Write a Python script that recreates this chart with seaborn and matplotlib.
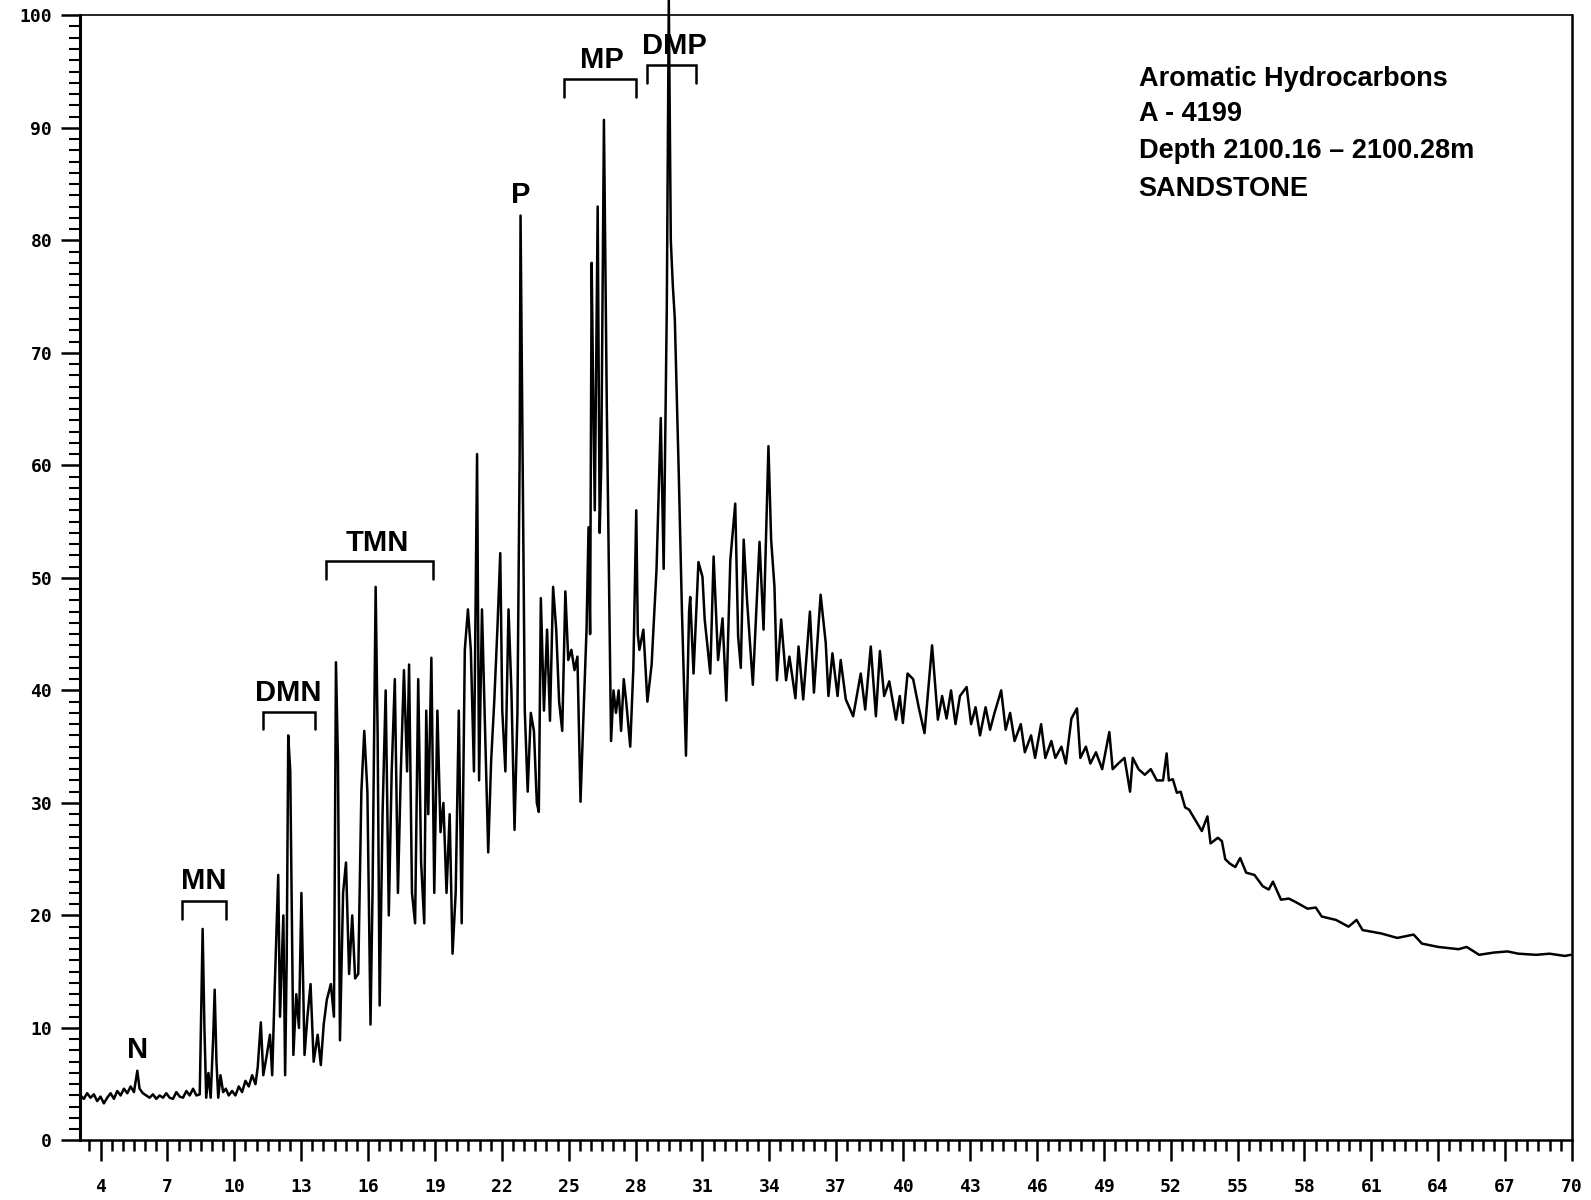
import matplotlib
matplotlib.use("Agg")
import matplotlib.pyplot as plt
import seaborn as sns
import pandas as pd
from matplotlib.ticker import MultipleLocator, FixedLocator

# ---------------- data ----------------
retention_time = [
    3.1, 3.25, 3.4, 3.55, 3.7, 3.85, 4.0, 4.15, 4.3, 4.45, 4.6, 4.75, 4.9, 5.05, 5.2, 5.35, 5.5, 5.65, 5.75, 5.9,
    6.05, 6.2, 6.35, 6.5, 6.65, 6.8, 6.95, 7.1, 7.25, 7.4, 7.55, 7.7, 7.85, 8.0, 8.15, 8.3, 8.45, 8.52, 8.58, 8.66,
    8.74, 8.84, 8.94, 9.05, 9.12, 9.2, 9.28, 9.38, 9.5, 9.62, 9.75, 9.9, 10.05, 10.2, 10.35, 10.5, 10.65, 10.8, 10.95, 11.05,
    11.19, 11.3, 11.45, 11.6, 11.7, 11.82, 11.97, 12.05, 12.2, 12.28, 12.35, 12.42, 12.51, 12.58, 12.65, 12.78, 12.9, 13.01, 13.08, 13.15,
    13.28, 13.42, 13.56, 13.74, 13.88, 14.01, 14.15, 14.33, 14.47, 14.56, 14.65, 14.74, 14.88, 15.01, 15.15, 15.29, 15.42, 15.56, 15.7, 15.83,
    15.97, 16.11, 16.2, 16.34, 16.43, 16.52, 16.65, 16.79, 16.93, 17.06, 17.2, 17.34, 17.47, 17.61, 17.75, 17.84, 17.97, 18.11, 18.25, 18.38,
    18.52, 18.61, 18.7, 18.84, 18.97, 19.11, 19.25, 19.38, 19.52, 19.66, 19.79, 19.93, 20.07, 20.2, 20.34, 20.48, 20.61, 20.75, 20.89, 20.98,
    21.11, 21.25, 21.39, 21.52, 21.66, 21.8, 21.93, 22.02, 22.16, 22.3, 22.43, 22.57, 22.7, 22.8, 22.84, 22.93, 23.03, 23.16, 23.3, 23.44,
    23.57, 23.66, 23.75, 23.89, 24.03, 24.16, 24.3, 24.44, 24.57, 24.71, 24.85, 24.98, 25.12, 25.26, 25.39, 25.53, 25.67, 25.8, 25.89, 25.96,
    26.03, 26.1, 26.17, 26.3, 26.39, 26.46, 26.58, 26.71, 26.9, 27.01, 27.12, 27.24, 27.35, 27.47, 27.58, 27.76, 27.9, 28.03, 28.1, 28.17,
    28.35, 28.53, 28.72, 28.94, 29.13, 29.26, 29.4, 29.49, 29.58, 29.67, 29.76, 29.94, 30.08, 30.26, 30.4, 30.45, 30.6, 30.82, 31.0, 31.1,
    31.35, 31.5, 31.7, 31.9, 32.07, 32.25, 32.47, 32.6, 32.72, 32.85, 33.0, 33.26, 33.56, 33.74, 33.96, 34.08, 34.23, 34.34, 34.53, 34.75,
    34.9, 35.17, 35.31, 35.52, 35.82, 36.0, 36.3, 36.53, 36.65, 36.83, 37.06, 37.2, 37.43, 37.76, 38.1, 38.3, 38.55, 38.78, 38.96, 39.15,
    39.38, 39.68, 39.85, 39.99, 40.2, 40.45, 40.7, 40.96, 41.3, 41.56, 41.75, 41.95, 42.15, 42.35, 42.55, 42.85, 43.05, 43.25, 43.45, 43.7,
    43.9, 44.1, 44.4, 44.6, 44.8, 45.0, 45.28, 45.46, 45.74, 45.92, 46.19, 46.38, 46.65, 46.83, 47.1, 47.3, 47.55, 47.8, 47.95, 48.2,
    48.4, 48.65, 48.93, 49.25, 49.4, 49.65, 49.93, 50.18, 50.3, 50.56, 50.84, 51.11, 51.38, 51.66, 51.82, 51.92, 52.1, 52.28, 52.45, 52.65,
    52.83, 53.1, 53.4, 53.65, 53.79, 54.12, 54.3, 54.45, 54.66, 54.9, 55.12, 55.39, 55.76, 56.13, 56.4, 56.59, 56.95, 57.3, 57.6, 58.14,
    58.51, 58.78, 59.42, 59.98, 60.34, 60.61, 61.44, 62.17, 62.9, 63.27, 64.0, 64.92, 65.28, 65.84, 66.5, 67.11, 67.6, 68.4, 69.0, 69.68,
    69.95,
]
intensity = [
    4.0, 3.7, 4.2, 3.8, 4.1, 3.5, 3.9, 3.3, 3.8, 4.2, 3.7, 4.4, 4.0, 4.6, 4.2, 4.8, 4.3, 6.2, 4.6, 4.2,
    4.0, 3.8, 4.1, 3.7, 4.0, 3.8, 4.2, 3.8, 3.7, 4.3, 3.9, 3.8, 4.4, 4.0, 4.6, 4.0, 4.1, 12.0, 18.8, 10.0,
    3.8, 6.0, 3.8, 9.0, 13.4, 7.0, 3.8, 5.8, 4.3, 4.6, 4.0, 4.4, 4.0, 4.8, 4.3, 5.3, 4.8, 5.8, 5.0, 6.5,
    10.5, 5.8, 7.5, 9.4, 5.8, 14.0, 23.6, 11.0, 20.0, 5.8, 16.0, 36.0, 32.8, 20.0, 7.6, 13.0, 10.0, 22.0, 15.0, 7.6,
    11.0, 13.9, 7.0, 9.4, 6.7, 10.3, 12.5, 13.9, 11.0, 42.5, 33.7, 8.9, 22.0, 24.7, 14.8, 20.0, 14.4, 14.8, 31.0, 36.4,
    31.0, 10.3, 22.0, 49.2, 36.0, 12.0, 29.0, 40.0, 20.0, 32.8, 41.0, 22.0, 32.8, 41.8, 32.8, 42.3, 22.0, 19.3, 41.0, 24.7,
    19.3, 38.2, 29.0, 42.9, 22.0, 38.2, 27.4, 30.0, 22.0, 29.0, 16.6, 22.0, 38.2, 19.3, 43.6, 47.2, 43.6, 32.8, 61.0, 32.0,
    47.2, 36.4, 25.6, 33.7, 39.0, 45.4, 52.2, 38.2, 32.8, 47.2, 40.0, 27.6, 38.0, 60.8, 82.2, 60.8, 38.2, 31.0, 38.0, 36.4,
    30.0, 29.2, 48.2, 38.2, 45.4, 37.3, 49.2, 45.4, 39.0, 36.4, 48.8, 42.7, 43.6, 41.8, 43.0, 30.1, 38.2, 45.4, 54.5, 45.0,
    78.0, 66.0, 56.0, 83.0, 54.0, 60.0, 90.7, 65.0, 35.5, 40.0, 38.0, 40.0, 36.4, 41.0, 39.0, 35.0, 42.0, 56.0, 45.0, 43.6,
    45.4, 39.0, 42.3, 50.8, 64.2, 50.8, 74.0, 101.4, 80.0, 76.0, 73.0, 59.0, 47.0, 34.2, 47.0, 48.3, 41.5, 51.4, 50.1, 46.3,
    41.5, 51.9, 42.7, 46.4, 39.1, 51.6, 56.6, 44.8, 42.0, 53.4, 48.0, 40.5, 53.2, 45.4, 61.7, 53.4, 49.2, 40.9, 46.3, 40.9,
    43.0, 39.3, 43.9, 39.2, 47.0, 39.8, 48.5, 44.2, 39.5, 43.3, 39.5, 42.7, 39.2, 37.7, 41.5, 38.3, 43.9, 37.7, 43.5, 39.5,
    40.8, 37.4, 39.5, 37.1, 41.5, 41.0, 38.5, 36.2, 44.0, 37.4, 39.5, 37.5, 40.0, 37.0, 39.5, 40.3, 37.0, 38.5, 36.0, 38.5,
    36.5, 38.0, 40.0, 36.5, 38.0, 35.5, 37.0, 34.5, 36.0, 34.0, 37.0, 34.0, 35.5, 34.0, 35.0, 33.5, 37.5, 38.4, 34.0, 35.0,
    33.5, 34.5, 33.0, 36.3, 33.0, 33.5, 34.0, 31.0, 34.0, 33.0, 32.5, 33.0, 32.0, 32.0, 34.4, 32.0, 32.1, 30.9, 31.0, 29.6,
    29.4, 28.5, 27.5, 28.8, 26.4, 26.9, 26.6, 25.0, 24.6, 24.3, 25.1, 23.8, 23.6, 22.6, 22.3, 23.0, 21.4, 21.5, 21.2, 20.6,
    20.7, 19.9, 19.6, 19.0, 19.6, 18.7, 18.4, 18.0, 18.3, 17.5, 17.2, 17.0, 17.2, 16.5, 16.7, 16.8, 16.6, 16.5, 16.6, 16.4,
    16.5,
]

x_tick_values = list(range(4, 71, 3))
y_tick_values = list(range(0, 101, 10))

peak_labels = ["N", "MN", "DMN", "TMN", "P", "MP", "DMP"]
peak_label_x = [5.68, 8.64, 12.42, 16.43, 22.84, 26.49, 29.76]
peak_label_y = [8.0, 23.1, 39.8, 53.1, 84.0, 96.0, 97.3]

bracket_start = [7.64, 11.28, 14.10, 24.80, 28.49]
bracket_end = [9.64, 13.60, 18.93, 28.03, 30.72]
bracket_top = [21.3, 38.1, 51.5, 94.3, 95.6]
bracket_foot = [19.7, 36.6, 49.9, 92.7, 94.0]

info_lines = ["Aromatic Hydrocarbons", "A - 4199", "Depth 2100.16 \u2013 2100.28m", "SANDSTONE"]
info_y = [94.3, 91.2, 87.9, 84.6]

# ---------------- plot ----------------
sns.set_style("ticks")
plt.rcParams['font.family'] = ['Liberation Sans', 'DejaVu Sans']
plt.rcParams['text.color'] = 'black'

fig = plt.figure(figsize=(15.91, 12.0), dpi=100)
ax = fig.add_axes([0.0503, 0.0496, 0.9377, 0.9377])

df = pd.DataFrame({"time": retention_time, "signal": intensity})
sns.lineplot(data=df, x="time", y="signal", sort=False, estimator=None,
             color="black", linewidth=1.8, ax=ax, clip_on=False)

ax.set_xlim(3.08, 70.0)
ax.set_ylim(0, 100)
ax.set_xlabel("")
ax.set_ylabel("")

ax.xaxis.set_major_locator(FixedLocator(x_tick_values))
ax.xaxis.set_minor_locator(MultipleLocator(0.5))
ax.yaxis.set_major_locator(FixedLocator(y_tick_values))
ax.yaxis.set_minor_locator(MultipleLocator(1))

tick_font = dict(family="DejaVu Sans Mono", weight="bold", size=13)
ax.set_xticklabels([str(v) for v in x_tick_values], fontdict=tick_font, color="black")
ax.set_yticklabels([str(v) for v in y_tick_values], fontdict=tick_font, color="black")

ax.tick_params(axis="x", which="major", direction="out", length=15, width=1.8, pad=12, color="black")
ax.tick_params(axis="x", which="minor", direction="out", length=8, width=1.8, color="black")
ax.tick_params(axis="y", which="major", direction="out", length=14, width=1.8, pad=6, color="black")
ax.tick_params(axis="y", which="minor", direction="out", length=8, width=1.5, color="black")

for side in ["left", "bottom", "right", "top"]:
    ax.spines[side].set_visible(True)
    ax.spines[side].set_color("black")
ax.spines["left"].set_linewidth(2.2)
ax.spines["bottom"].set_linewidth(1.8)
ax.spines["right"].set_linewidth(1.8)
ax.spines["top"].set_linewidth(1.2)

label_font = dict(family="Liberation Sans", weight="bold", size=21)
for name, lx, ly in zip(peak_labels, peak_label_x, peak_label_y):
    ax.text(lx, ly, name, ha="center", va="center", fontdict=label_font, color="black")

for x0, x1, yt, yf in zip(bracket_start, bracket_end, bracket_top, bracket_foot):
    ax.plot([x0, x0, x1, x1], [yf, yt, yt, yf], color="black", linewidth=1.8,
            solid_joinstyle="miter")

for line, yy in zip(info_lines, info_y):
    ax.text(50.56, yy, line, ha="left", va="center", color="black",
            fontdict=dict(family="Liberation Sans", weight="bold", size=19.5))

fig.savefig("out.png", dpi=100)
